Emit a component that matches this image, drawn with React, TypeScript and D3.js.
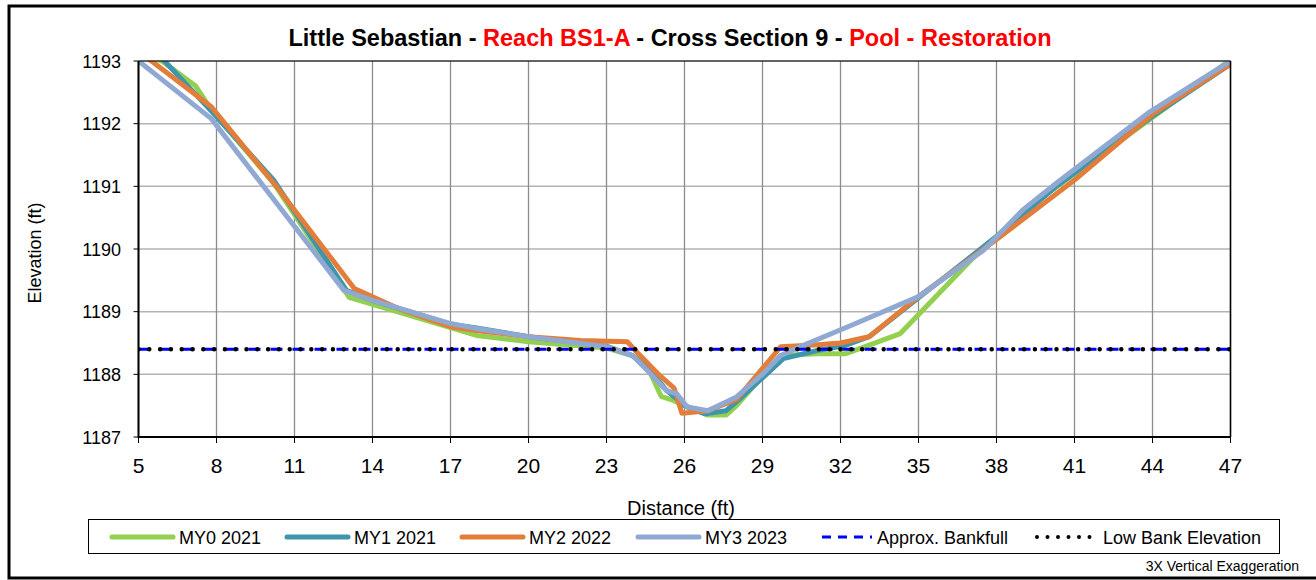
import * as d3 from 'd3'

const xTicks = [5, 8, 11, 14, 17, 20, 23, 26, 29, 32, 35, 38, 41, 44, 47]
const yTicks = [1187, 1188, 1189, 1190, 1191, 1192, 1193]

const my0X = [4.8, 5.9, 7.2, 7.8, 10.2, 13.1, 18.0, 20.0, 23.0, 24.0, 24.6, 25.1, 25.6, 26.1, 26.9, 27.6, 28.0, 29.7, 31.1, 32.2, 33.0, 34.3, 37.5, 40.0, 44.0, 47.0]
const my0Y = [1193.15, 1193.0, 1192.6, 1192.22, 1191.05, 1189.23, 1188.62, 1188.52, 1188.42, 1188.3, 1188.1, 1187.65, 1187.58, 1187.48, 1187.35, 1187.35, 1187.5, 1188.3, 1188.33, 1188.33, 1188.45, 1188.65, 1190.03, 1190.9, 1192.1, 1193.02]

const my1X = [5.0, 6.0, 7.8, 10.2, 13.0, 14.0, 17.0, 18.0, 20.0, 23.0, 24.0, 24.7, 25.3, 26.0, 26.8, 27.6, 28.1, 29.8, 31.1, 32.1, 33.1, 35.0, 38.0, 40.3, 44.0, 47.0]
const my1Y = [1193.3, 1193.0, 1192.2, 1191.1, 1189.34, 1189.18, 1188.8, 1188.74, 1188.6, 1188.45, 1188.3, 1188.05, 1187.75, 1187.5, 1187.37, 1187.42, 1187.6, 1188.25, 1188.38, 1188.45, 1188.6, 1189.22, 1190.2, 1191.0, 1192.12, 1192.95]

const my2X = [4.8, 5.5, 7.8, 10.3, 13.3, 15.0, 17.0, 18.0, 20.0, 22.0, 23.8, 24.2, 25.0, 25.6, 25.9, 26.9, 28.0, 29.7, 31.0, 32.0, 33.1, 35.0, 38.0, 41.0, 44.0, 47.0]
const my2Y = [1193.15, 1193.0, 1192.27, 1191.0, 1189.37, 1189.05, 1188.76, 1188.7, 1188.6, 1188.54, 1188.52, 1188.34, 1188.0, 1187.78, 1187.38, 1187.42, 1187.6, 1188.44, 1188.47, 1188.5, 1188.6, 1189.24, 1190.15, 1191.1, 1192.15, 1192.95]

const my3X = [5.0, 7.8, 12.9, 14.0, 17.0, 18.0, 20.0, 23.0, 24.0, 24.6, 25.3, 25.7, 26.1, 26.9, 28.0, 29.0, 29.7, 30.5, 32.4, 35.0, 37.5, 39.0, 40.3, 43.9, 47.0]
const my3Y = [1193.0, 1192.08, 1189.34, 1189.18, 1188.81, 1188.73, 1188.6, 1188.44, 1188.3, 1188.05, 1187.74, 1187.69, 1187.48, 1187.42, 1187.64, 1188.0, 1188.3, 1188.45, 1188.78, 1189.24, 1189.98, 1190.62, 1191.05, 1192.19, 1193.0]

const bankX = [5, 47]
const bankfullY = [1188.4, 1188.4]
const lowBankY = [1188.4, 1188.4]

const series = [
  { name: 'MY0 2021', xs: my0X, ys: my0Y, color: '#92D050' },
  { name: 'MY1 2021', xs: my1X, ys: my1Y, color: '#3D96AE' },
  { name: 'MY2 2022', xs: my2X, ys: my2Y, color: '#E27E3A' },
  { name: 'MY3 2023', xs: my3X, ys: my3Y, color: '#8FA9D2' },
]

const font = '"Liberation Sans", Arial, sans-serif'

export default function App() {
  const width = 1316
  const height = 580
  const left = 138.5
  const right = 1230.5
  const top = 61
  const bottom = 437

  const x = d3.scaleLinear().domain([5, 47]).range([left, right])
  const y = d3.scaleLinear().domain([1187, 1193]).range([bottom, top])

  const line = d3.line<[number, number]>()
    .x(d => x(d[0]))
    .y(d => y(d[1]))

  const pts = (xs: number[], ys: number[]) => xs.map((v, i) => [v, ys[i]] as [number, number])

  // legend slots
  const legendLine = [112, 287, 462, 638]
  const legendText = [179, 354, 529, 705]

  return (
    <svg width={width} height={height} style={{ position: 'absolute', left: 0, top: 0, background: '#fff' }} fontFamily={font}>
      <defs>
        <clipPath id="plot">
          <rect x={left} y={top} width={right - left} height={bottom - top} />
        </clipPath>
      </defs>
      <rect x={9} y={6} width={1320} height={572} fill="none" stroke="#000" strokeWidth={3} />

      <text x={670} y={46} textAnchor="middle" fontSize={23.5} fontWeight="bold">
        <tspan fill="#000">Little Sebastian - </tspan>
        <tspan fill="#FF0000">Reach BS1-A</tspan>
        <tspan fill="#000"> - Cross Section 9 - </tspan>
        <tspan fill="#FF0000">Pool - Restoration</tspan>
      </text>

      {/* grid */}
      {yTicks.map(t => (
        <line key={'gy' + t} x1={left} x2={right} y1={y(t)} y2={y(t)} stroke="#b3b3b3" strokeWidth={1.5} />
      ))}
      {xTicks.map(t => (
        <line key={'gx' + t} x1={x(t)} x2={x(t)} y1={top} y2={bottom} stroke="#8c8c8c" strokeWidth={1.3} />
      ))}

      {/* series */}
      <g clipPath="url(#plot)">
        {series.map(s => (
          <path key={s.name} d={line(pts(s.xs, s.ys)) || ''} fill="none" stroke={s.color} strokeWidth={5} strokeLinejoin="round" />
        ))}
        <path d={line(pts(bankX, bankfullY)) || ''} fill="none" stroke="#0000FF" strokeWidth={3} strokeDasharray="12,10" />
        <path d={line(pts(bankX, lowBankY)) || ''} fill="none" stroke="#000" strokeWidth={4.5} strokeLinecap="round" strokeDasharray="0,10.8" />
      </g>

      {/* plot frame */}
      <line x1={left} x2={right} y1={top} y2={top} stroke="#000" strokeWidth={1} />
      <line x1={right} x2={right} y1={top} y2={bottom} stroke="#000" strokeWidth={1.5} />
      <line x1={left} x2={left} y1={top} y2={bottom + 1} stroke="#000" strokeWidth={2} />
      <line x1={left} x2={right} y1={bottom} y2={bottom} stroke="#000" strokeWidth={2} />

      {/* y axis */}
      {yTicks.map(t => (
        <g key={'yt' + t}>
          <line x1={left - 5} x2={left} y1={y(t)} y2={y(t)} stroke="#000" strokeWidth={1} />
          <text x={121} y={y(t) + 6.5} textAnchor="end" fontSize={18}>{t}</text>
        </g>
      ))}
      <text transform="translate(41,253) rotate(-90)" textAnchor="middle" fontSize={18}>Elevation (ft)</text>

      {/* x axis */}
      {xTicks.map(t => (
        <g key={'xt' + t}>
          <line x1={x(t)} x2={x(t)} y1={bottom} y2={bottom + 6} stroke="#000" strokeWidth={1} />
          <text x={x(t)} y={473} textAnchor="middle" fontSize={21}>{t}</text>
        </g>
      ))}
      <text x={681} y={515} textAnchor="middle" fontSize={20}>Distance (ft)</text>

      {/* legend */}
      <rect x={88.5} y={519.5} width={1191} height={34} fill="#fff" stroke="#000" strokeWidth={1} />
      {series.map((s, i) => (
        <g key={'lg' + s.name}>
          <line x1={legendLine[i]} x2={legendLine[i] + 61} y1={537} y2={537} stroke={s.color} strokeWidth={5} strokeLinecap="round" />
          <text x={legendText[i]} y={543.5} fontSize={18}>{s.name}</text>
        </g>
      ))}
      <line x1={822} x2={872} y1={537} y2={537} stroke="#0000FF" strokeWidth={3} strokeDasharray="9,7" />
      <text x={877} y={543.5} fontSize={18}>Approx. Bankfull</text>
      <line x1={1037} x2={1097} y1={537} y2={537} stroke="#000" strokeWidth={4} strokeLinecap="round" strokeDasharray="0,10.5" />
      <text x={1103} y={543.5} fontSize={18}>Low Bank Elevation</text>

      <text x={1299} y={571} textAnchor="end" fontSize={14}>3X Vertical Exaggeration</text>
    </svg>
  )
}
